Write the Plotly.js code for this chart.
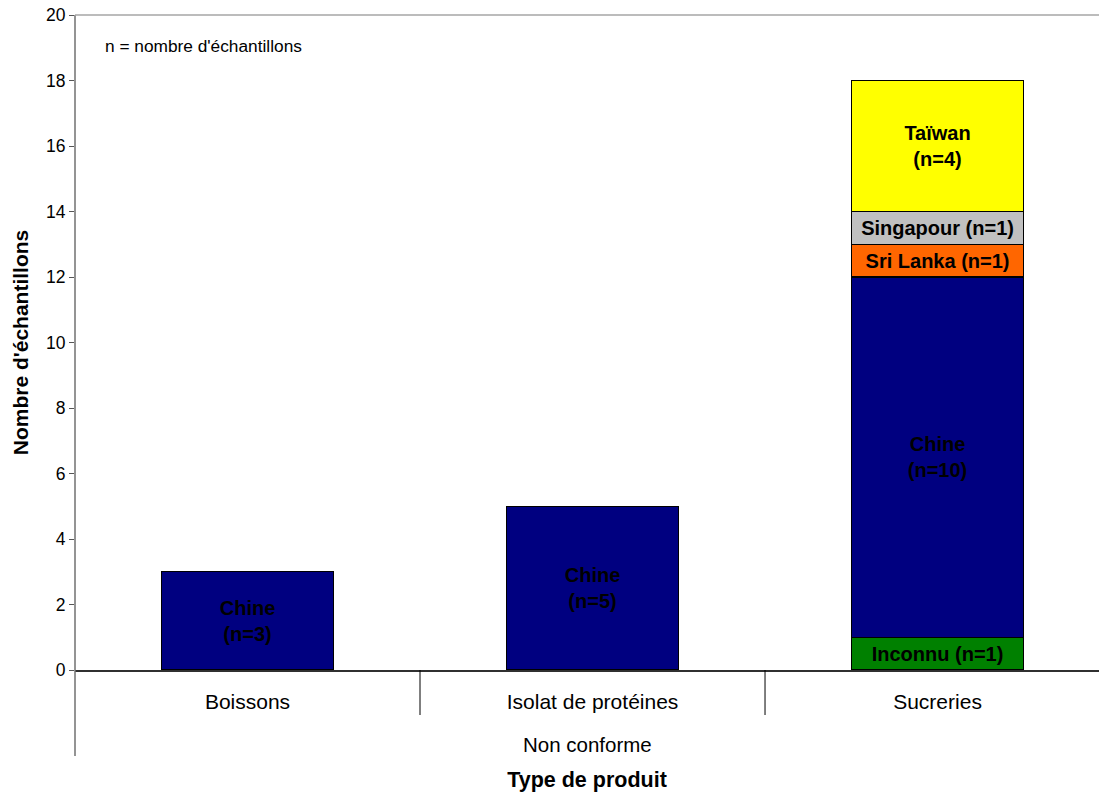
<!DOCTYPE html>
<html>
<head>
<meta charset="utf-8">
<script src="https://cdn.plot.ly/plotly-3.0.1.min.js"></script>
<style>
html,body{margin:0;padding:0;background:#fff;overflow:hidden;}
#chart{width:1099px;height:792px;}
</style>
</head>
<body>
<div id="chart"></div>
<script>
// ---- data ----
const categories = ["Boissons", "Isolat de protéines", "Sucreries"];
const groupLabel = "Non conforme";
const seriesNames = ["Inconnu", "Chine", "Sri Lanka", "Singapour", "Taïwan"];
const inconnuValues   = [null, null, 1];
const chineValues     = [3, 5, 11];
const sriLankaValues  = [null, null, 1];
const singapourValues = [null, null, 1];
const taiwanValues    = [null, null, 4];
// n shown in the labels (as printed on the chart)
const inconnuN   = [null, null, 1];
const chineN     = [3, 5, 10];
const sriLankaN  = [null, null, 1];
const singapourN = [null, null, 1];
const taiwanN    = [null, null, 4];
const twoLineLabel = [false, true, false, false, true];
const seriesColors = ["#008000", "#000080", "#FF6600", "#C0C0C0", "#FFFF00"];
const yTickVals = [0, 2, 4, 6, 8, 10, 12, 14, 16, 18, 20];
const noteText = "n = nombre d'échantillons";
const xTitle = "Type de produit";
const yTitle = "Nombre d'échantillons";

const allValues = [inconnuValues, chineValues, sriLankaValues, singapourValues, taiwanValues];
const allN = [inconnuN, chineN, sriLankaN, singapourN, taiwanN];

const traces = seriesNames.map((name, i) => ({
  type: "bar",
  name: name,
  x: categories,
  y: allValues[i],
  text: allN[i].map(n => n == null ? "" : (twoLineLabel[i] ? name + "<br>(n=" + n + ")" : name + " (n=" + n + ")")),
  textposition: "inside",
  insidetextanchor: "middle",
  constraintext: "none",
  textangle: 0,
  textfont: {family: "Arial, 'Liberation Sans', sans-serif", size: 20, color: "#000", weight: "bold"},
  marker: {color: seriesColors[i], line: {color: "#000", width: 1.2}},
  hoverinfo: "x+y+name",
  cliponaxis: false
}));

const plotBottomPx = 122, plotH = 792 - 15 - plotBottomPx;

const layout = {
  width: 1099, height: 792,
  margin: {l: 75, r: 0, t: 15, b: plotBottomPx},
  paper_bgcolor: "#fff", plot_bgcolor: "#fff",
  barmode: "stack",
  bargap: 0.5,
  showlegend: false,
  font: {family: "Arial, 'Liberation Sans', sans-serif", color: "#000"},
  xaxis: {
    type: "category",
    range: [-0.5, 2.468],
    showgrid: false, zeroline: false,
    showline: true, linecolor: "#303030", linewidth: 1.5,
    ticks: "",
    ticklabelstandoff: 12,
    tickfont: {size: 21, color: "#000"},
    title: {text: xTitle, font: {size: 21.5, weight: "bold", color: "#000"}, standoff: 62},
    fixedrange: true
  },
  yaxis: {
    range: [0, 20],
    tickvals: yTickVals,
    ticks: "outside", ticklen: 5, tickcolor: "#555", tickwidth: 1,
    showgrid: false, zeroline: false, showline: false,
    tickfont: {size: 17.5, color: "#000"},
    title: {text: yTitle, font: {size: 21, weight: "bold", color: "#000"}, standoff: 11},
    fixedrange: true
  },
  shapes: [
    // extended value axis line
    {type: "line", xref: "paper", yref: "paper", x0: 0, x1: 0, y0: 1, y1: -(86 / plotH), line: {color: "#707070", width: 1.5}},
    // top border
    {type: "line", xref: "paper", yref: "paper", x0: 0, x1: 1, y0: 1, y1: 1, line: {color: "#a6a6a6", width: 1.5}},
    // category separators
    ...categories.slice(0, -1).map((c, i) => ({
      type: "line", xref: "x", yref: "paper", x0: i + 0.5, x1: i + 0.5, y0: 0, y1: -(45 / plotH),
      line: {color: "#000", width: 1}
    }))
  ],
  annotations: [
    {text: noteText, xref: "paper", yref: "paper", x: 0, y: 1, xshift: 28, yshift: -31,
     xanchor: "left", yanchor: "middle", showarrow: false, font: {size: 17.3, color: "#000"}},
    {text: groupLabel, xref: "paper", yref: "paper", x: 0.5, y: 0, yshift: -74,
     xanchor: "center", yanchor: "middle", showarrow: false, font: {size: 20.5, color: "#000"}}
  ]
};

Plotly.newPlot("chart", traces, layout, {displayModeBar: false, staticPlot: true});
</script>
</body>
</html>
